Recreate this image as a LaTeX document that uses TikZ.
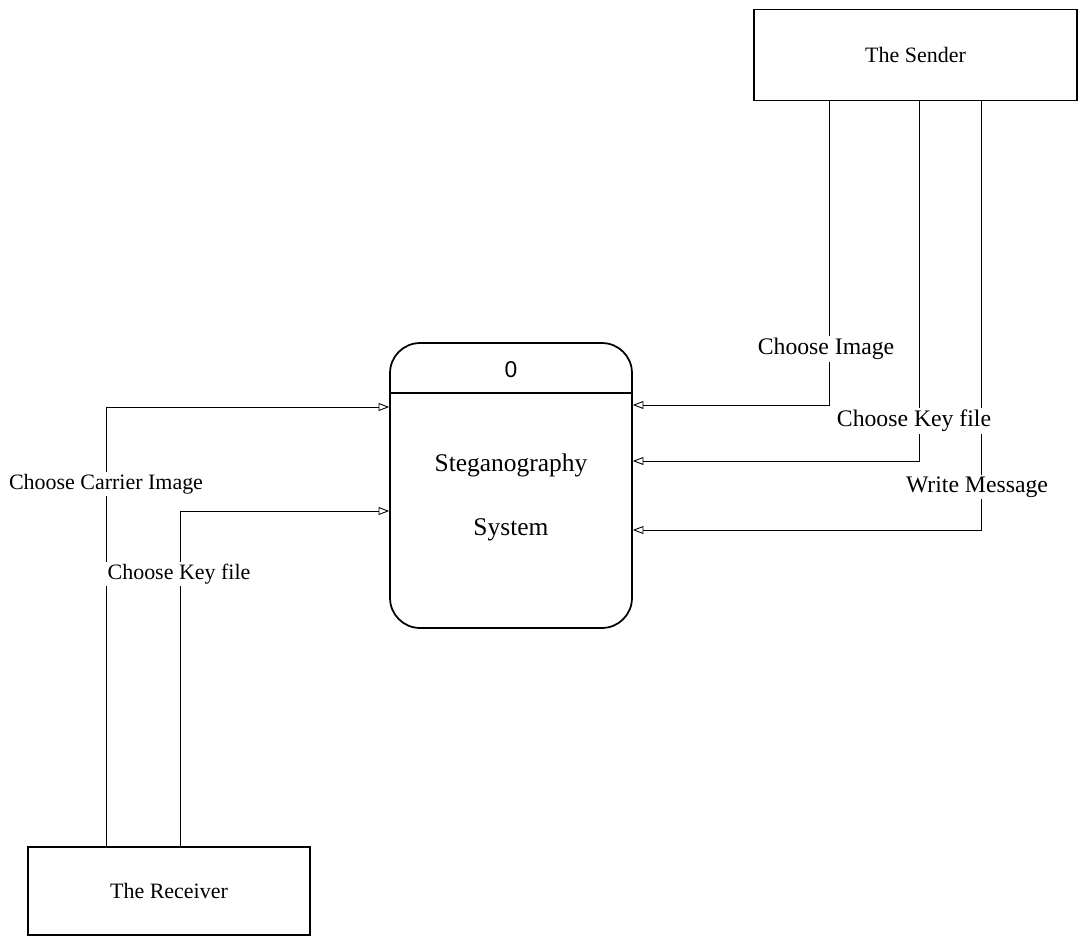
\documentclass[tikz,border=0pt]{standalone}
\usepackage{fontspec}
\setmainfont{Liberation Serif}
\newfontfamily\numfont{Liberation Sans}
\usetikzlibrary{arrows.meta}
\begin{document}
\begin{tikzpicture}[x=0.02cm,y=-0.02cm,
  entity/.style={draw,line width=0.8pt,inner sep=0pt,font=\fontsize{12.5}{15}\selectfont},
  process/.style={draw,line width=1pt,rounded corners=0.6cm,inner sep=0pt,minimum width=4.84cm,minimum height=5.7cm},
  flow/.style={draw,line width=0.5pt,-{Triangle[open,length=6pt,width=4.5pt]}},
  flowlabel/.style={fill=white,inner sep=1pt,font=\fontsize{13.5}{16}\selectfont},
  smalllabel/.style={flowlabel,font=\fontsize{12.5}{15}\selectfont}]
  % page
  \useasboundingbox (0,0) rectangle (1082,937);
  \fill[white] (0,0) rectangle (1082,937);

  % external entities
  \node[entity,minimum width=6.46cm,minimum height=1.82cm] (sender) at (915.5,55) {The Sender};
  \node[entity,minimum width=5.64cm,minimum height=1.76cm] (receiver) at (169,891) {The Receiver};

  % central process
  \node[process] (main) at (511,485.5) {};
  \coordinate (divy) at (0,393);
  \draw[line width=0.8pt] (main.west |- divy) -- (main.east |- divy);
  \node[font=\numfont\fontsize{13}{15}\selectfont] (pid) at (511,370) {0};
  \node[font=\fontsize{14.5}{17}\selectfont] (pname1) at (511,465) {Steganography};
  \node[font=\fontsize{14.5}{17}\selectfont] (pname2) at (511,530) {System};

  % flows from the sender
  \coordinate (ci) at (829,405);
  \coordinate (ck) at (919,461);
  \coordinate (wm) at (981,530);
  \draw[flow] (sender.south -| ci) |- (main.east |- ci);
  \draw[flow] (sender.south -| ck) |- (main.east |- ck);
  \draw[flow] (sender.south -| wm) |- (main.east |- wm);
  \node[flowlabel] (lci) at (826,349) {Choose Image};
  \node[flowlabel] (lck) at (914,421) {Choose Key file};
  \node[flowlabel] (lwm) at (977,487) {Write Message};

  % flows from the receiver
  \coordinate (cc) at (106,407);
  \coordinate (rk) at (180,511);
  \draw[flow] (receiver.north -| cc) |- (main.west |- cc);
  \draw[flow] (receiver.north -| rk) |- (main.west |- rk);
  \node[smalllabel] (lcc) at (106,484) {Choose Carrier Image};
  \node[smalllabel] (lrk) at (179,574) {Choose Key file};
\end{tikzpicture}
\end{document}
